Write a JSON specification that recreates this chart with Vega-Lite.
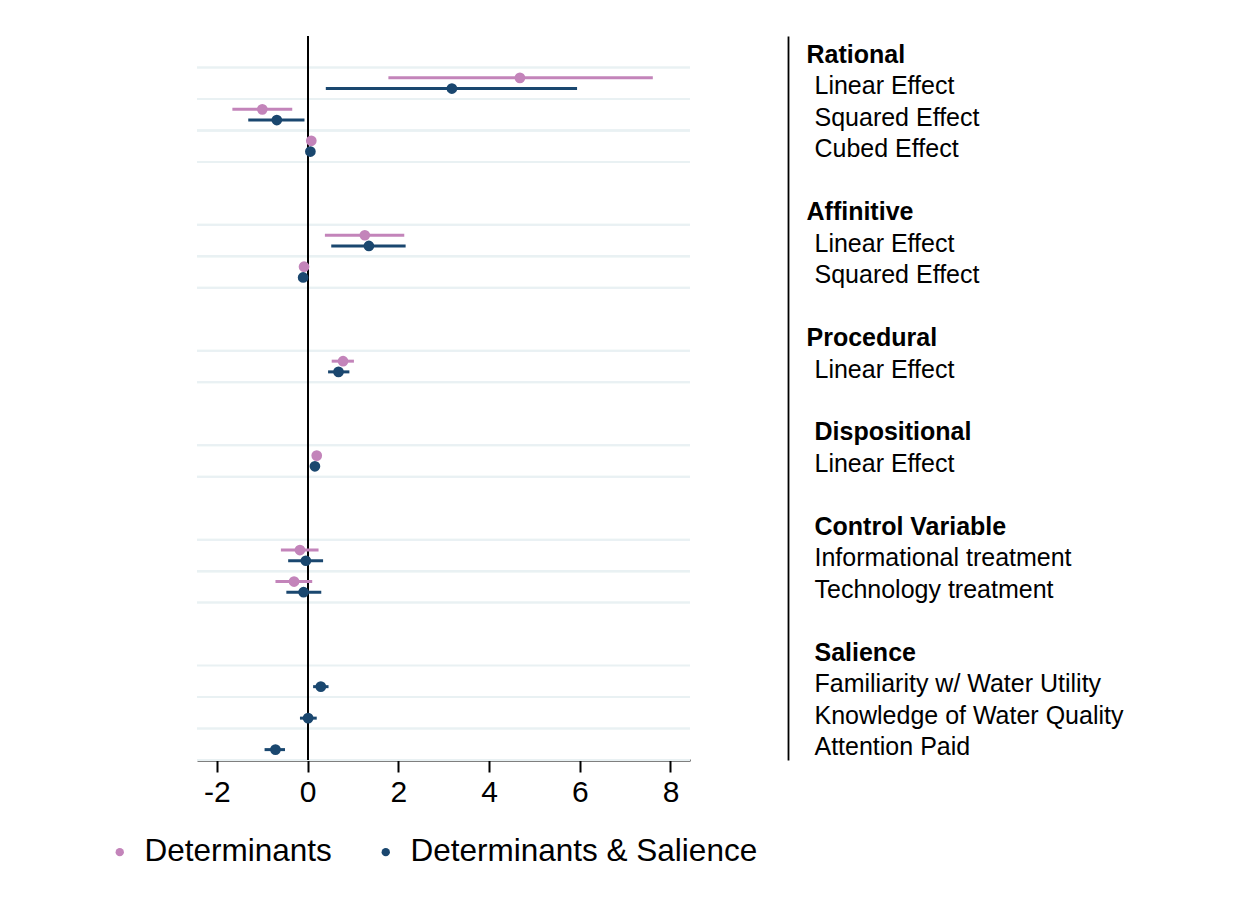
{
  "$schema": "https://vega.github.io/schema/vega-lite/v6.json",
  "autosize": {"type": "none"},
  "width": 493,
  "height": 724,
  "padding": {"left": 197, "top": 36, "right": 563, "bottom": 144},
  "background": "white",
  "config": {
    "view": {"stroke": null},
    "font": "Liberation Sans"
  },
  "data": {
    "values": [
      {"row": "r1|Linear Effect", "model": "Determinants", "est": 4.68, "lo": 1.78, "hi": 7.61},
      {"row": "r1|Linear Effect", "model": "Determinants & Salience", "est": 3.18, "lo": 0.40, "hi": 5.94},
      {"row": "r2|Squared Effect", "model": "Determinants", "est": -1.00, "lo": -1.66, "hi": -0.34},
      {"row": "r2|Squared Effect", "model": "Determinants & Salience", "est": -0.68, "lo": -1.31, "hi": -0.07},
      {"row": "r3|Cubed Effect", "model": "Determinants", "est": 0.08, "lo": 0.06, "hi": 0.10},
      {"row": "r3|Cubed Effect", "model": "Determinants & Salience", "est": 0.06, "lo": 0.04, "hi": 0.08},
      {"row": "r6|Linear Effect", "model": "Determinants", "est": 1.26, "lo": 0.38, "hi": 2.13},
      {"row": "r6|Linear Effect", "model": "Determinants & Salience", "est": 1.35, "lo": 0.52, "hi": 2.16},
      {"row": "r7|Squared Effect", "model": "Determinants", "est": -0.08, "lo": -0.11, "hi": -0.05},
      {"row": "r7|Squared Effect", "model": "Determinants & Salience", "est": -0.10, "lo": -0.13, "hi": -0.07},
      {"row": "r10|Linear Effect", "model": "Determinants", "est": 0.78, "lo": 0.53, "hi": 1.02},
      {"row": "r10|Linear Effect", "model": "Determinants & Salience", "est": 0.68, "lo": 0.45, "hi": 0.92},
      {"row": "r13|Linear Effect", "model": "Determinants", "est": 0.20, "lo": 0.15, "hi": 0.25},
      {"row": "r13|Linear Effect", "model": "Determinants & Salience", "est": 0.16, "lo": 0.12, "hi": 0.20},
      {"row": "r16|Informational treatment", "model": "Determinants", "est": -0.17, "lo": -0.59, "hi": 0.24},
      {"row": "r16|Informational treatment", "model": "Determinants & Salience", "est": -0.04, "lo": -0.43, "hi": 0.34},
      {"row": "r17|Technology treatment", "model": "Determinants", "est": -0.30, "lo": -0.71, "hi": 0.10},
      {"row": "r17|Technology treatment", "model": "Determinants & Salience", "est": -0.09, "lo": -0.47, "hi": 0.30},
      {"row": "r20|Familiarity w/ Water Utility", "model": "Determinants & Salience", "est": 0.29, "lo": 0.12, "hi": 0.46},
      {"row": "r21|Knowledge of Water Quality", "model": "Determinants & Salience", "est": 0.01, "lo": -0.17, "hi": 0.20},
      {"row": "r22|Attention Paid", "model": "Determinants & Salience", "est": -0.71, "lo": -0.95, "hi": -0.50}
    ]
  },
  "layer": [
    {
      "mark": {"type": "rule", "color": "#e9f1f3", "strokeWidth": 2},
      "encoding": {
        "y": {"field": "row", "type": "nominal", "bandPosition": 0, "title": null}
      }
    },
    {
      "mark": {"type": "rule", "color": "#e9f1f3", "strokeWidth": 2},
      "encoding": {
        "y": {"field": "row", "type": "nominal", "bandPosition": 1, "title": null}
      }
    },
    {
      "mark": {"type": "rule", "color": "black", "strokeWidth": 1.3},
      "encoding": {
        "x": {"datum": 0, "type": "quantitative", "title": null}
      }
    },
    {
      "mark": {"type": "rule", "strokeWidth": 3},
      "encoding": {
        "y": {"field": "row", "type": "nominal", "title": null},
        "yOffset": {"field": "model", "type": "nominal", "scale": {"domain": ["Determinants", "Determinants & Salience"], "paddingInner": 0, "paddingOuter": 0.47}},
        "x": {"field": "lo", "type": "quantitative", "title": null},
        "x2": {"field": "hi"},
        "color": {
          "condition": {"test": "datum.model == 'Determinants'", "value": "#c384ba"},
          "value": "#1a476f"
        }
      }
    },
    {
      "mark": {"type": "point", "filled": true, "opacity": 1, "size": 115, "shape": "circle"},
      "encoding": {
        "y": {
          "field": "row", "type": "nominal", "title": null,
          "scale": {
            "type": "band",
            "paddingInner": 0, "paddingOuter": 0,
            "domain": [
              "h0|Rational", "r1|Linear Effect", "r2|Squared Effect", "r3|Cubed Effect", "b4|",
              "h5|Affinitive", "r6|Linear Effect", "r7|Squared Effect", "b8|",
              "h9|Procedural", "r10|Linear Effect", "b11|",
              "g12|Dispositional", "r13|Linear Effect", "b14|",
              "g15|Control Variable", "r16|Informational treatment", "r17|Technology treatment", "b18|",
              "g19|Salience", "r20|Familiarity w/ Water Utility", "r21|Knowledge of Water Quality", "r22|Attention Paid"
            ]
          },
          "axis": {
            "orient": "right",
            "offset": 98,
            "title": null,
            "grid": false,
            "ticks": false,
            "domain": true,
            "domainColor": "black",
            "domainWidth": 1.8,
            "labelExpr": "split(datum.value, '|')[1]",
            "labelFont": "Liberation Sans",
            "labelFontSize": 25,
            "labelColor": "black",
            "labelPadding": {"condition": {"test": "indexof(datum.value, 'h') == 0", "value": 18}, "value": 26},
            "labelOffset": 3,
            "labelLimit": 600,
            "labelAlign": "left",
            "labelBaseline": "middle",
            "labelFontWeight": {"condition": {"test": "indexof(datum.value, 'h') == 0 || indexof(datum.value, 'g') == 0", "value": "bold"}, "value": "normal"}
          }
        },
        "yOffset": {"field": "model", "type": "nominal", "scale": {"domain": ["Determinants", "Determinants & Salience"], "paddingInner": 0, "paddingOuter": 0.47}},
        "x": {
          "field": "est", "type": "quantitative", "title": null,
          "scale": {"domain": [-2.44, 8.43], "nice": false, "zero": false},
          "axis": {
            "values": [-2, 0, 2, 4, 6, 8],
            "grid": false,
            "title": null,
            "domainColor": "black",
            "domainWidth": 2,
            "tickColor": "black",
            "tickWidth": 2,
            "tickSize": 12,
            "labelExpr": "datum.value < 0 ? '-' + format(-datum.value, 'd') : format(datum.value, 'd')",
            "labelFont": "Liberation Sans",
            "labelFontSize": 30,
            "labelColor": "black",
            "labelPadding": 5,
            "labelFlush": false
          }
        },
        "color": {
          "field": "model", "type": "nominal",
          "scale": {"domain": ["Determinants", "Determinants & Salience"], "range": ["#c384ba", "#1a476f"]},
          "legend": {
            "title": null,
            "orient": "none",
            "legendX": -93,
            "legendY": 800,
            "direction": "horizontal",
            "padding": 0,
            "symbolType": "circle",
            "symbolSize": 70,
            "symbolStrokeWidth": 0,
            "labelFont": "Liberation Sans",
            "labelFontSize": 31.5,
            "labelColor": "black",
            "labelOffset": 9,
            "columnPadding": 38,
            "labelLimit": 600
          }
        }
      }
    }
  ]
}
